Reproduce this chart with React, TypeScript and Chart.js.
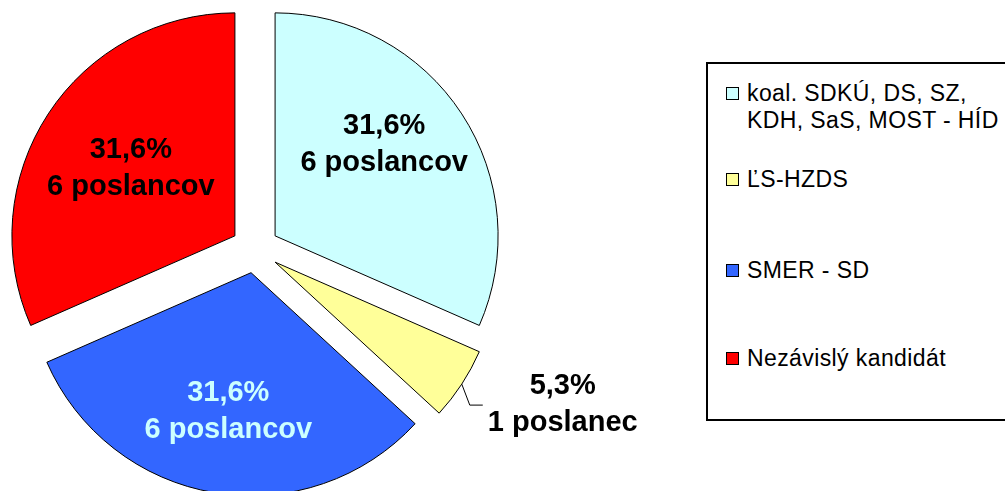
import React, { useEffect, useRef } from "react";
import { Chart, ArcElement, PieController } from "chart.js";

Chart.register(ArcElement, PieController);

// ---- data ----
const CATEGORIES = [
  "koal. SDKÚ, DS, SZ,\nKDH, SaS, MOST - HÍD",
  "ĽS-HZDS",
  "SMER - SD",
  "Nezávislý kandidát",
];
const SEATS = [6, 1, 6, 6];
const COLORS = ["#CCFFFF", "#FFFF99", "#3366FF", "#FF0000"];
const LABEL_COLORS = ["#000000", "#000000", "#CCFFFF", "#000000"];

// ---- layout / style ----
const RADIUS = 223;
const EXPLODE = 24;
const LABEL_FONT_SIZE = 29;
const LINE_GAP = 37;
const LABEL_NUDGE_Y = 2;
const FONT = '"Liberation Sans", Arial, Helvetica, sans-serif';

const LABEL_PLACEMENT: any[] = [
  { inside: true, radius: 0.643, angleShift: -7.3 },
  { inside: false, elbow: [8, 21], tail: 13, gap: 5, dy: -3 },
  { inside: true, radius: 0.62, angleShift: 0 },
  { inside: true, radius: 0.562, angleShift: 0.7 },
];

const LEGEND_ITEM_TOPS = [16, 102, 193, 281];

const total = SEATS.reduce((a, b) => a + b, 0);
const pctText = (v: number) =>
  ((v / total) * 100).toFixed(1).replace(".", ",") + "%";
const seatText = (v: number) =>
  v === 1 ? `${v} poslanec` : v >= 2 && v <= 4 ? `${v} poslanci` : `${v} poslancov`;

const explodePlugin = {
  id: "explode",
  afterUpdate(chart: any) {
    const meta = chart.getDatasetMeta(0);
    meta.data.forEach((arc: any) => {
      const mid = (arc.startAngle + arc.endAngle) / 2;
      arc.x += Math.cos(mid) * EXPLODE;
      arc.y += Math.sin(mid) * EXPLODE;
    });
  },
};

const labelPlugin = {
  id: "sliceLabels",
  afterDatasetsDraw(chart: any) {
    const ctx = chart.ctx as CanvasRenderingContext2D;
    const meta = chart.getDatasetMeta(0);
    meta.data.forEach((arc: any, i: number) => {
      const { x, y, startAngle, endAngle, outerRadius } = arc;
      const mid = (startAngle + endAngle) / 2;
      const lines = [pctText(SEATS[i]), seatText(SEATS[i])];
      const p = LABEL_PLACEMENT[i];
      ctx.save();
      ctx.font = `bold ${LABEL_FONT_SIZE}px ${FONT}`;
      ctx.fillStyle = LABEL_COLORS[i];
      ctx.textAlign = "center";
      ctx.textBaseline = "middle";
      let cx: number, cy: number;
      if (p.inside) {
        const a = mid + (p.angleShift * Math.PI) / 180;
        cx = x + Math.cos(a) * outerRadius * p.radius;
        cy = y + Math.sin(a) * outerRadius * p.radius;
      } else {
        const sx = x + Math.cos(mid) * outerRadius;
        const sy = y + Math.sin(mid) * outerRadius;
        const ex = sx + p.elbow[0];
        const ey = sy + p.elbow[1];
        const fx = ex + p.tail;
        ctx.strokeStyle = "#000000";
        ctx.lineWidth = 1;
        ctx.beginPath();
        ctx.moveTo(sx, sy);
        ctx.lineTo(ex, ey);
        ctx.lineTo(fx, ey);
        ctx.stroke();
        const w = Math.max(...lines.map((l) => ctx.measureText(l).width));
        cx = fx + p.gap + w / 2;
        cy = ey + p.dy;
      }
      cy += LABEL_NUDGE_Y;
      ctx.fillText(lines[0], cx, cy - LINE_GAP / 2);
      ctx.fillText(lines[1], cx, cy + LINE_GAP / 2);
      ctx.restore();
    });
  },
};

export default function App() {
  const ref = useRef<HTMLCanvasElement>(null);
  useEffect(() => {
    const chart = new Chart(ref.current as HTMLCanvasElement, {
      type: "pie",
      data: {
        labels: CATEGORIES,
        datasets: [
          {
            data: SEATS,
            backgroundColor: COLORS,
            borderColor: "#000000",
            borderWidth: 1,
            borderJoinStyle: "miter",
            clip: false,
          } as any,
        ],
      },
      options: {
        responsive: false,
        animation: false,
        devicePixelRatio: 1,
        radius: RADIUS,
        events: [],
        layout: { padding: { left: 0, top: 7, right: 495, bottom: 0 } },
      } as any,
      plugins: [explodePlugin, labelPlugin],
    });
    return () => chart.destroy();
  }, []);

  return (
    <div
      style={{
        position: "fixed",
        left: 0,
        top: 0,
        width: 1005,
        height: 491,
        overflow: "hidden",
        background: "#ffffff",
      }}
    >
      <canvas
        ref={ref}
        width={1005}
        height={491}
        style={{ position: "absolute", left: 0, top: 0, width: 1005, height: 491 }}
      />
      <div
        style={{
          position: "absolute",
          left: 706,
          top: 62,
          width: 340,
          height: 359,
          boxSizing: "border-box",
          border: "2px solid #000000",
          background: "#ffffff",
          fontFamily: FONT,
          fontSize: 23,
          lineHeight: "27px",
          letterSpacing: "0.4px",
          color: "#000000",
        }}
      >
        {CATEGORIES.map((c, i) => (
          <div
            key={c}
            style={{ position: "absolute", left: 0, top: LEGEND_ITEM_TOPS[i], width: 330 }}
          >
            <div
              style={{
                position: "absolute",
                left: 18,
                top: 7,
                width: 13,
                height: 13,
                boxSizing: "border-box",
                border: "1px solid #000000",
                background: COLORS[i],
              }}
            />
            <div style={{ marginLeft: 39, whiteSpace: "pre-line" }}>{c}</div>
          </div>
        ))}
      </div>
    </div>
  );
}
